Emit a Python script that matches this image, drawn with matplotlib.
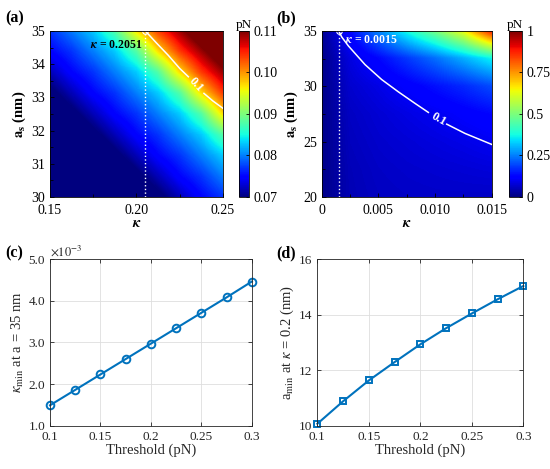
import numpy as np
import matplotlib
matplotlib.use("Agg")
import matplotlib.pyplot as plt
from matplotlib.cm import ScalarMappable
from matplotlib.colors import Normalize
from matplotlib.ticker import MultipleLocator

plt.rcParams['font.family'] = ['Liberation Serif', 'DejaVu Serif']
plt.rcParams['mathtext.fontset'] = 'stix'

# ---- panel (a): force map, kappa 0.15-0.25, a_s 30-35 nm
kappa_a = [0.15, 0.1625, 0.175, 0.1875, 0.20, 0.2125, 0.225, 0.2375, 0.25]
as_a = [30.0, 30.625, 31.25, 31.875, 32.5, 33.125, 33.75, 34.375, 35.0]
force_a = [
    [0.058, 0.060, 0.062, 0.064, 0.066, 0.069, 0.072, 0.075, 0.077],
    [0.060, 0.062, 0.064, 0.066, 0.069, 0.072, 0.075, 0.077, 0.080],
    [0.062, 0.064, 0.066, 0.069, 0.072, 0.075, 0.077, 0.080, 0.083],
    [0.064, 0.066, 0.069, 0.072, 0.075, 0.077, 0.080, 0.083, 0.088],
    [0.066, 0.069, 0.072, 0.075, 0.077, 0.080, 0.083, 0.088, 0.097],
    [0.069, 0.072, 0.075, 0.077, 0.080, 0.083, 0.088, 0.097, 0.104],
    [0.072, 0.075, 0.077, 0.080, 0.083, 0.088, 0.097, 0.104, 0.109],
    [0.075, 0.077, 0.080, 0.083, 0.088, 0.097, 0.104, 0.109, 0.114],
    [0.077, 0.080, 0.083, 0.088, 0.097, 0.104, 0.109, 0.114, 0.120],
]
# 0.1 pN contour (split around its label)
cont_a_k1 = [0.2051, 0.2115, 0.2183, 0.2250, 0.2300]
cont_a_y1 = [35.0, 34.64, 34.27, 33.87, 33.62]
cont_a_k2 = [0.2390, 0.2442, 0.2500]
cont_a_y2 = [33.12, 32.89, 32.67]
kappa_crit_a = 0.2051

# ---- panel (b): force map, kappa 0-0.015, a_s 20-35 nm
kappa_b = [0, 0.0025, 0.005, 0.0075, 0.010, 0.0125, 0.015]
as_b = [20, 22.5, 25, 27.5, 30, 32.5, 35]
force_b = [
    [0.01, 0.048, 0.058, 0.062, 0.064, 0.064, 0.063],
    [0.01, 0.050, 0.062, 0.068, 0.072, 0.076, 0.080],
    [0.01, 0.055, 0.068, 0.076, 0.084, 0.092, 0.102],
    [0.01, 0.060, 0.075, 0.088, 0.100, 0.115, 0.130],
    [0.01, 0.070, 0.090, 0.115, 0.140, 0.165, 0.200],
    [0.01, 0.085, 0.130, 0.180, 0.235, 0.300, 0.370],
    [0.02, 0.130, 0.260, 0.385, 0.500, 0.650, 0.900],
]
cont_b_k1 = [0.0015, 0.00176, 0.00235, 0.00382, 0.00529, 0.00676, 0.00824, 0.00941]
cont_b_y1 = [35.0, 34.46, 33.65, 31.96, 30.61, 29.50, 28.45, 27.64]
cont_b_k2 = [0.01103, 0.01265, 0.0150]
cont_b_y2 = [26.58, 25.74, 24.75]
kappa_crit_b = 0.0015

# ---- panels (c), (d)
threshold = [0.1, 0.125, 0.15, 0.175, 0.2, 0.225, 0.25, 0.275, 0.3]
kappa_min = [1.49, 1.86, 2.23, 2.60, 2.97, 3.34, 3.71, 4.08, 4.46]   # x1e-3
a_min = [10.07, 10.88, 11.63, 12.29, 12.93, 13.51, 14.04, 14.55, 15.03]

mblue = '#0072BD'
gray = '#262626'

fig = plt.figure(figsize=(5.5, 4.69), dpi=100)


def heat(ax, cax, kx, ay, z, vmin, vmax, ticks, ticklabels):
    dk = kx[1] - kx[0]
    da = ay[1] - ay[0]
    ax.imshow(np.array(z), origin='lower', aspect='auto', cmap='jet',
              vmin=vmin, vmax=vmax, interpolation='bilinear',
              interpolation_stage='data',
              extent=[kx[0] - dk / 2, kx[-1] + dk / 2,
                      ay[0] - da / 2, ay[-1] + da / 2])
    ax.set_xlim(kx[0], kx[-1])
    ax.set_ylim(ay[0], ay[-1])
    sm = ScalarMappable(norm=Normalize(vmin, vmax), cmap='jet')
    cb = fig.colorbar(sm, cax=cax, ticks=ticks)
    cb.ax.set_yticklabels(ticklabels)
    cb.ax.tick_params(labelsize=10, length=2, direction='in', width=0.6)
    cb.outline.set_linewidth(0.6)
    cax.set_title('pN', fontsize=9.5, pad=2)
    ax.tick_params(which='both', direction='in', labelsize=10, width=0.6)
    ax.tick_params(which='major', length=3)
    ax.tick_params(which='minor', length=2)
    ax.tick_params(axis='x', pad=5)
    for s in ax.spines.values():
        s.set_linewidth(0.6)
    ax.set_xlabel(r'$\boldsymbol{\kappa}$', fontsize=10.5, labelpad=0)
    ax.set_ylabel(r'$\mathbf{a}_\mathbf{s}$ (nm)', fontsize=10.5,
                  fontweight='bold', labelpad=2)


# (a)
ax_a = fig.add_axes([0.0909, 0.58, 0.3145, 0.354])
cax_a = fig.add_axes([0.4345, 0.58, 0.0182, 0.354])
heat(ax_a, cax_a, kappa_a, as_a, force_a, 0.07, 0.11,
     [0.07, 0.08, 0.09, 0.10, 0.11], ['0.07', '0.08', '0.09', '0.10', '0.11'])
ax_a.set_xticks([0.15, 0.20, 0.25], ['0.15', '0.20', '0.25'])
ax_a.xaxis.set_minor_locator(MultipleLocator(0.025))
ax_a.set_yticks([30, 31, 32, 33, 34, 35])
ax_a.yaxis.set_minor_locator(MultipleLocator(0.5))
ax_a.plot(cont_a_k1, cont_a_y1, color='white', lw=1.1)
ax_a.plot(cont_a_k2, cont_a_y2, color='white', lw=1.1)
ax_a.text(0.2346, 33.37, '0.1', color='white', fontsize=9, fontweight='bold',
          rotation=-48, ha='center', va='center')
ax_a.axvline(kappa_crit_a, color='white', ls=':', lw=1)
ax_a.plot([kappa_crit_a], [35], 'o', ms=4, mfc='none', mec='white', mew=0.8,
          clip_on=False)
ax_a.text(0.2035, 34.57, r'$\boldsymbol{\kappa}$ = 0.2051', fontsize=8.5,
          fontweight='bold', ha='right', va='center', color='black')

# (b)
ax_b = fig.add_axes([0.585, 0.58, 0.309, 0.354])
cax_b = fig.add_axes([0.9255, 0.58, 0.0227, 0.354])
heat(ax_b, cax_b, kappa_b, as_b, force_b, 0.0, 1.0,
     [0, 0.25, 0.5, 0.75, 1], ['0', '0.25', '0.5', '0.75', '1'])
ax_b.set_xticks([0, 0.005, 0.010, 0.015], ['0', '0.005', '0.010', '0.015'])
ax_b.xaxis.set_minor_locator(MultipleLocator(0.0025))
ax_b.set_yticks([20, 25, 30, 35])
ax_b.yaxis.set_minor_locator(MultipleLocator(2.5))
ax_b.plot(cont_b_k1, cont_b_y1, color='white', lw=1.1)
ax_b.plot(cont_b_k2, cont_b_y2, color='white', lw=1.1)
ax_b.text(0.0103, 27.03, '0.1', color='white', fontsize=9, fontweight='bold',
          rotation=-30, ha='center', va='center')
ax_b.axvline(kappa_crit_b, color='white', ls=':', lw=1)
ax_b.plot([kappa_crit_b], [35], 'o', ms=4, mfc='none', mec='white', mew=0.8,
          clip_on=False)
ax_b.text(0.00205, 34.16, r'$\boldsymbol{\kappa}$ = 0.0015', fontsize=8.5,
          fontweight='bold', ha='left', va='center', color='white')


def line_panel(ax):
    ax.grid(True, color='#dedede', lw=0.6)
    ax.set_axisbelow(True)
    ax.tick_params(direction='in', labelsize=9.5, colors=gray, length=3,
                   width=0.6, top=True, right=True)
    for s in ax.spines.values():
        s.set_linewidth(0.6)
        s.set_color(gray)
    ax.set_xlim(0.1, 0.3)
    ax.set_xticks([0.1, 0.15, 0.2, 0.25, 0.3], ['0.1', '0.15', '0.2', '0.25', '0.3'])
    ax.set_xlabel('Threshold (pN)', fontsize=10.5, color=gray, labelpad=1)


# (c)
ax_c = fig.add_axes([0.0909, 0.0923, 0.367, 0.3554])
line_panel(ax_c)
ax_c.plot(threshold, kappa_min, '-o', color=mblue, lw=1.5, ms=5.5, mfc='none',
          mew=1.4, clip_on=False)
ax_c.set_ylim(1.0, 5.0)
ax_c.set_yticks([1, 2, 3, 4, 5], ['1.0', '2.0', '3.0', '4.0', '5.0'])
ax_c.text(0.0, 1.0, r'$\times10^{-3}$', transform=ax_c.transAxes, fontsize=9,
          color=gray, ha='left', va='bottom')
ax_c.set_ylabel(r'$\kappa_{\rm min}$ at a = 35 nm', fontsize=10.5, color=gray,
                labelpad=2)

# (d)
ax_d = fig.add_axes([0.577, 0.0923, 0.3745, 0.3554])
line_panel(ax_d)
ax_d.plot(threshold, a_min, '-s', color=mblue, lw=1.5, ms=5, mfc='none',
          mew=1.4, clip_on=False)
ax_d.set_ylim(10, 16)
ax_d.set_yticks([10, 12, 14, 16])
ax_d.set_ylabel(r'a$_{\rm min}$ at $\kappa$ = 0.2 (nm)', fontsize=10.5,
                color=gray, labelpad=2)

for x, y, s in [(0.009, 0.978, '(a)'), (0.502, 0.978, '(b)'),
                (0.009, 0.476, '(c)'), (0.502, 0.476, '(d)')]:
    fig.text(x, y, s, fontsize=11.5, fontweight='bold', va='top', ha='left')

fig.savefig('out.png', dpi=100)
